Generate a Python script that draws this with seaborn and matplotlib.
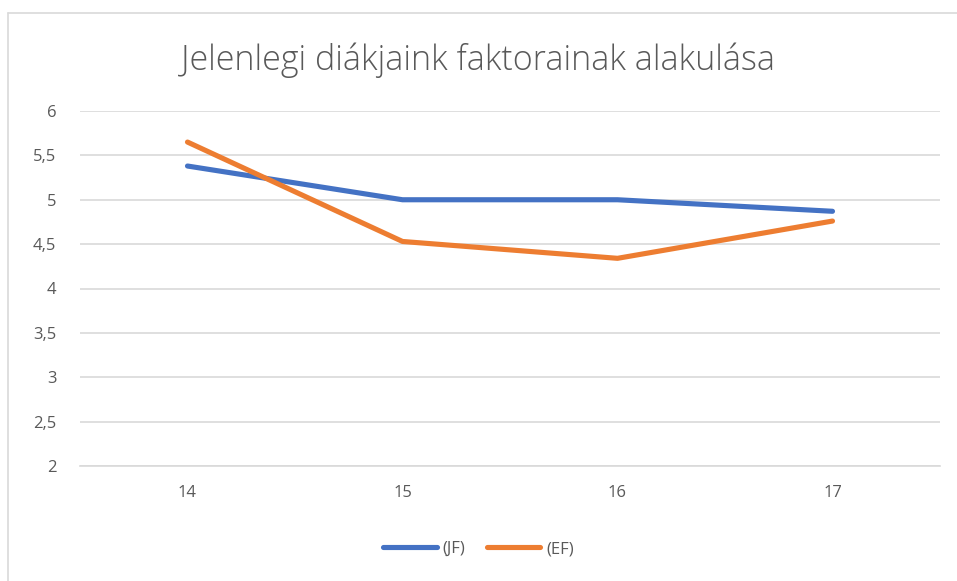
import pandas as pd
import matplotlib.pyplot as plt
import seaborn as sns
from matplotlib.lines import Line2D

# Data
categories = ['14', '15', '16', '17']
jf_values = [5.38, 5.00, 5.00, 4.87]
ef_values = [5.65, 4.53, 4.34, 4.76]
series_names = ['(JF)', '(EF)']
y_ticks = [2, 2.5, 3, 3.5, 4, 4.5, 5, 5.5, 6]
title = 'Jelenlegi diákjaink faktorainak alakulása'

colors = ['#4472C4', '#ED7D31']
text_color = '#595959'
grid_color = '#D9D9D9'


def build_dataframe():
    df = pd.DataFrame({
        'Age': categories * 2,
        'Value': jf_values + ef_values,
        'Series': [series_names[0]] * len(categories) + [series_names[1]] * len(categories),
    })
    df['x'] = df['Age'].map({c: i for i, c in enumerate(categories)})
    return df


def main():
    sns.set_style('white')
    plt.rcParams['font.family'] = ['Open Sans', 'DejaVu Sans']

    df = build_dataframe()

    fig = plt.figure(figsize=(9.57, 5.81), dpi=100)
    ax = fig.add_axes([80 / 957, 115 / 581, 860 / 957, 355 / 581])

    sns.lineplot(data=df, x='x', y='Value', hue='Series', palette=colors,
                 linewidth=3.7, ax=ax, legend=False, zorder=3)
    for line in ax.get_lines():
        line.set_solid_capstyle('round')
        line.set_solid_joinstyle('round')

    ax.set_xlim(-0.5, len(categories) - 0.5)
    ax.set_ylim(2, 6)
    ax.set_xticks(range(len(categories)))
    ax.set_xticklabels(categories)
    ax.set_yticks(y_ticks)
    ax.set_yticklabels([f'{v:g}'.replace('.', ',') for v in y_ticks])
    ax.tick_params(axis='both', length=0, labelsize=12, colors=text_color)
    ax.tick_params(axis='y', pad=17)
    ax.tick_params(axis='x', pad=14)
    ax.set_xlabel('')
    ax.set_ylabel('')

    ax.yaxis.grid(True, color=grid_color, linewidth=1.2)
    ax.set_axisbelow(True)
    for side in ['left', 'right', 'top']:
        ax.spines[side].set_visible(False)
    ax.spines['bottom'].set_color(grid_color)
    ax.spines['bottom'].set_linewidth(1.2)

    fig.text(0.5, 1 - 60 / 581, title, ha='center', va='center',
             fontsize=24.5, color=text_color, fontweight='light')

    handles = [Line2D([0], [0], color=c, linewidth=3.7, solid_capstyle='round') for c in colors]
    fig.legend(handles, series_names, loc='center', bbox_to_anchor=(0.5, 1 - 549 / 581),
               ncol=2, frameon=False, fontsize=12, labelcolor=text_color,
               handlelength=3.2, handletextpad=0.35, columnspacing=1.3)

    # Chart area border (top and left edges visible in the reference)
    fig.add_artist(Line2D([8 / 957, 8 / 957], [0, 1 - 12.5 / 581], color=grid_color,
                          linewidth=1.2, transform=fig.transFigure))
    fig.add_artist(Line2D([8 / 957, 1], [1 - 12.5 / 581, 1 - 12.5 / 581], color=grid_color,
                          linewidth=1.2, transform=fig.transFigure))

    fig.savefig('out.png', dpi=100)


if __name__ == '__main__':
    main()
